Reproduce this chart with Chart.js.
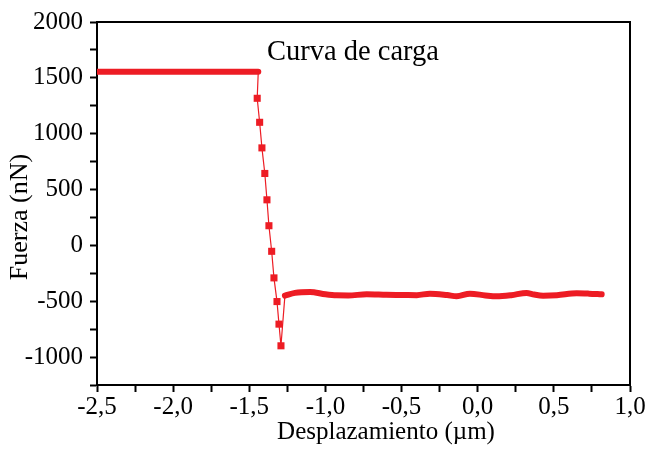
<!DOCTYPE html>
<html>
<head>
<meta charset="utf-8">
<script src="https://cdn.jsdelivr.net/npm/chart.js@4.4.1/dist/chart.umd.min.js"></script>
<style>
    html, body { margin: 0; padding: 0; background: #fff; }
    #wrap { width: 648px; height: 450px; }
</style>
</head>
<body>
<div id="wrap"><canvas id="curva"></canvas></div>
<script>
// flat part of the loading curve
const flatX = [-2.5, -2.2, -1.9, -1.6, -1.441];
const flatY = [1555, 1555, 1555, 1555, 1555];

// the drop, square markers (first and last points are just joins)
const dropX = [-1.441, -1.448, -1.432, -1.417, -1.398, -1.384, -1.371, -1.353, -1.338, -1.318, -1.305, -1.292, -1.266];
const dropY = [1555, 1317, 1102, 873, 644, 408, 176, -53, -291, -503, -705, -899, -450];

// after the snap-in, wavy plateau
const waveX = [-1.266, -1.2, -1.101, -1.0, -0.926, -0.85, -0.729, -0.6, -0.489, -0.4, -0.314, -0.2, -0.138, -0.051, 0.05, 0.124, 0.22, 0.321, 0.37, 0.43, 0.52, 0.65, 0.73, 0.814];
const waveY = [-450, -425, -417, -438, -447, -448, -438, -442, -444, -446, -432, -445, -456, -432, -448, -456, -446, -426, -440, -450, -446, -429, -432, -438];

const xTicks = [-2.5, -2.0, -1.5, -1.0, -0.5, 0.0, 0.5, 1.0];
const yTicks = [-1000, -500, 0, 500, 1000, 1500, 2000];

const RED = '#ed1c24';
const FONT = "'Liberation Serif', 'Times New Roman', serif";

function pts(xs, ys) {
    return xs.map((x, i) => ({ x: x, y: ys[i] }));
}

const dropRadius = dropX.map((x, i) => (i === 0 || i === dropX.length - 1) ? 0 : 5);

const frame = {
    id: 'frame',
    afterDraw(chart) {
        const ctx = chart.ctx;
        const a = chart.chartArea;
        ctx.save();
        ctx.strokeStyle = '#000';
        ctx.lineWidth = 2;
        ctx.beginPath();
        ctx.moveTo(a.left, a.top);
        ctx.lineTo(a.right, a.top);
        ctx.lineTo(a.right, a.bottom);
        ctx.stroke();

        ctx.fillStyle = '#000';
        ctx.font = '25px ' + FONT;
        ctx.textAlign = 'center';
        ctx.textBaseline = 'alphabetic';
        ctx.fillText('Desplazamiento (\u00b5m)', 386, 439);

        ctx.translate(27, 217);
        ctx.rotate(-Math.PI / 2);
        ctx.font = '26px ' + FONT;
        ctx.fillText('Fuerza (nN)', 0, 0);
        ctx.restore();

        ctx.save();
        ctx.fillStyle = '#000';
        ctx.font = '28.5px ' + FONT;
        ctx.textAlign = 'left';
        ctx.textBaseline = 'alphabetic';
        ctx.fillText('Curva de carga', 267, 60);
        ctx.restore();
    }
};

new Chart(document.getElementById('curva'), {
    type: 'line',
    data: {
        datasets: [
            {
                data: pts(flatX, flatY),
                borderColor: RED,
                borderWidth: 6,
                borderCapStyle: 'round',
                pointRadius: 0,
                order: 2
            },
            {
                data: pts(dropX, dropY),
                borderColor: RED,
                backgroundColor: RED,
                borderWidth: 1.2,
                pointStyle: 'rect',
                pointRadius: dropRadius,
                pointBorderWidth: 0,
                order: 1
            },
            {
                data: pts(waveX, waveY),
                borderColor: RED,
                borderWidth: 6,
                borderCapStyle: 'round',
                tension: 0.4,
                cubicInterpolationMode: 'monotone',
                pointRadius: 0,
                order: 2
            }
        ]
    },
    options: {
        responsive: true,
        maintainAspectRatio: false,
        animation: false,
        layout: {
            autoPadding: false,
            padding: { top: 19, right: 18, left: 0, bottom: 0 }
        },
        plugins: {
            legend: { display: false },
            tooltip: { enabled: false }
        },
        scales: {
            x: {
                type: 'linear',
                min: -2.5,
                max: 1.0,
                afterFit(s) { s.height = 65; },
                afterBuildTicks(s) {
                    const t = [];
                    for (let i = 0; i < xTicks.length; i++) {
                        t.push({ value: xTicks[i] });
                        if (i < xTicks.length - 1) t.push({ value: xTicks[i] + 0.25 });
                    }
                    s.ticks = t;
                },
                border: { display: true, color: '#000', width: 2 },
                grid: {
                    drawOnChartArea: false,
                    drawTicks: true,
                    tickLength: 7,
                    tickColor: '#000',
                    tickWidth: 2
                },
                ticks: {
                    autoSkip: false,
                    maxRotation: 0,
                    padding: 0,
                    color: '#000',
                    font: { family: FONT, size: 25 },
                    callback(v) {
                        const k = Math.round(v * 100);
                        if (k % 50 !== 0) return '';
                        return (k / 100).toFixed(1).replace('.', ',');
                    }
                }
            },
            y: {
                type: 'linear',
                min: -1250,
                max: 2000,
                afterFit(s) { s.width = 97; },
                afterBuildTicks(s) {
                    const t = [{ value: -1250 }];
                    for (let i = 0; i < yTicks.length; i++) {
                        t.push({ value: yTicks[i] });
                        if (i < yTicks.length - 1) t.push({ value: yTicks[i] + 250 });
                    }
                    s.ticks = t;
                },
                border: { display: true, color: '#000', width: 2 },
                grid: {
                    drawOnChartArea: false,
                    drawTicks: true,
                    tickLength: 7,
                    tickColor: '#000',
                    tickWidth: 2
                },
                ticks: {
                    autoSkip: false,
                    padding: 7,
                    color: '#000',
                    font: { family: FONT, size: 25 },
                    callback(v) {
                        if (v % 500 !== 0) return '';
                        return String(v);
                    }
                }
            }
        }
    },
    plugins: [frame]
});
</script>
</body>
</html>
